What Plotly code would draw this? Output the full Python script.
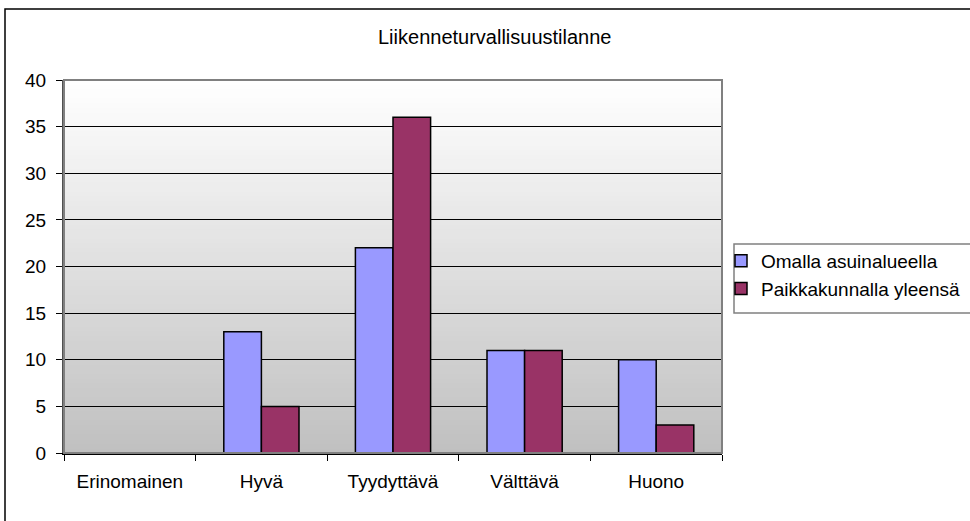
import plotly.graph_objects as go

categories = ["Erinomainen", "Hyvä", "Tyydyttävä", "Välttävä", "Huono"]
omalla = [0, 13, 22, 11, 10]
paikkakunta = [0, 5, 36, 11, 3]
series_names = ["Omalla asuinalueella", "Paikkakunnalla yleensä"]
y_ticks = [0, 5, 10, 15, 20, 25, 30, 35, 40]

W, H = 970, 521
L, R, T, B = 64, 248, 80, 68
FONT = "Liberation Sans, Arial, sans-serif"

fig = go.Figure()

fig.add_trace(go.Bar(
    x=categories, y=omalla, name=series_names[0],
    marker=dict(color="#9999FF", line=dict(color="#000000", width=1.5)),
))
fig.add_trace(go.Bar(
    x=categories, y=paikkakunta, name=series_names[1],
    marker=dict(color="#993366", line=dict(color="#000000", width=1.5)),
))

# gradient plot background (white at top -> grey at bottom), drawn as thin bands
shapes = []
n = 80
for i in range(n):
    t = i / (n - 1)
    c = round(255 - (255 - 192) * (1 - t))
    shapes.append(dict(
        type="rect", xref="x domain", yref="y domain",
        x0=0, x1=1, y0=i / n, y1=min(1, (i + 1.6) / n),
        fillcolor=f"rgb({c},{c},{c})", line=dict(width=0), layer="below",
    ))

# plot area border (grey, top / right)
shapes.append(dict(
    type="rect", xref="x domain", yref="y domain", x0=0, x1=1, y0=0, y1=1,
    line=dict(color="#808080", width=2), fillcolor="rgba(0,0,0,0)", layer="above",
))

pw = W - L - R
ph = H - T - B


def px_x(x):
    return (x - L) / pw


def px_y(y):
    return (H - B - y) / ph


# outer chart border
shapes.append(dict(
    type="rect", xref="paper", yref="paper",
    x0=px_x(5), x1=px_x(W + 20), y0=px_y(H + 20), y1=px_y(9),
    line=dict(color="#000000", width=1.5), fillcolor="rgba(0,0,0,0)",
))
# legend box
shapes.append(dict(
    type="rect", xref="paper", yref="paper",
    x0=px_x(734), x1=px_x(W + 20), y0=px_y(313), y1=px_y(244),
    line=dict(color="#808080", width=1.5), fillcolor="rgba(0,0,0,0)",
))

fig.update_layout(
    width=W, height=H,
    margin=dict(l=L, r=R, t=T, b=B, autoexpand=False),
    paper_bgcolor="#ffffff",
    plot_bgcolor="#ffffff",
    font=dict(family=FONT, size=19, color="#000000"),
    barmode="group",
    bargap=1.5 / 3.5,
    bargroupgap=0,
    shapes=shapes,
    showlegend=True,
    legend=dict(
        xref="container", yref="container",
        x=721 / W, y=1 - 242 / H, xanchor="left", yanchor="top",
        bgcolor="rgba(0,0,0,0)", borderwidth=0,
        font=dict(family=FONT, size=19, color="#000000"),
        traceorder="normal",
    ),
    annotations=[dict(
        text="Liikenneturvallisuustilanne", xref="paper", yref="paper",
        x=px_x(494), y=px_y(37), xanchor="center", yanchor="middle",
        showarrow=False, font=dict(family=FONT, size=20, color="#000000"),
    )],
)

fig.update_xaxes(
    type="category",
    showline=True, linecolor="#000000", linewidth=2,
    ticks="outside", tickson="boundaries", ticklen=6, tickcolor="#000000",
    showgrid=False,
    ticklabelstandoff=10,
)
fig.update_yaxes(
    range=[0, 40], tickvals=y_ticks,
    showline=True, linecolor="#505050", linewidth=2,
    ticks="outside", ticklen=6, tickcolor="#000000",
    showgrid=True, gridcolor="#000000", gridwidth=1,
    zeroline=False,
    ticklabelstandoff=6,
)

# page without the default body margin, so the chart sits at the window origin
fig.write_html(
    "out.html",
    config={"displayModeBar": False},
    post_script="document.body.style.margin='0';",
)
